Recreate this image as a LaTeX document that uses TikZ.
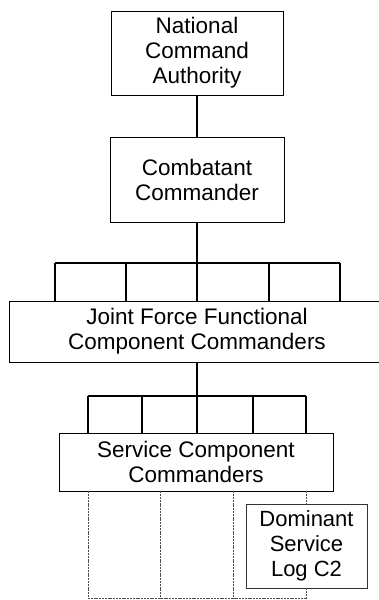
\documentclass[tikz,border=0pt]{standalone}
\usepackage{fontspec}
\setmainfont{Liberation Sans}
\begin{document}
\begin{tikzpicture}[x=1pt,y=-1pt,
  box/.style={draw, line width=0.9pt, font=\fontsize{22.5}{25}\selectfont, align=center, inner sep=0pt},
  thinbox/.style={box, line width=0.6pt, draw=black!80, font=\fontsize{22}{25}\selectfont},
  conn/.style={line width=1.8pt},
  dotl/.style={line width=0.6pt, draw=black!70, dash pattern=on 2pt off 0.8pt}]
\useasboundingbox (0,0) rectangle (378,600);
% boxes
\node[box, minimum width=172pt, minimum height=84pt] (nca) at (197,53) {National\\Command\\Authority};
\node[box, minimum width=174pt, minimum height=85pt] (cc) at (197,179.5) {Combatant\\Commander};
\node[box, minimum width=376pt, minimum height=61pt] (jf) at (197,331.5) {Joint Force Functional\\Component Commanders};
\node[box, minimum width=274pt, minimum height=58pt] (sc) at (196,462) {Service Component\\Commanders};
\node[thinbox, minimum width=121pt, minimum height=84pt] (dom) at (306.5,546) {Dominant\\Service\\Log C2};
% coordinates
\coordinate (b1a) at (55,263);
\coordinate (b1b) at (126,263);
\coordinate (b1c) at (197,263);
\coordinate (b1d) at (269,263);
\coordinate (b1e) at (340,263);
\coordinate (b2a) at (88,396);
\coordinate (b2b) at (142,396);
\coordinate (b2c) at (197,396);
\coordinate (b2d) at (253,396);
\coordinate (b2e) at (306,396);
\coordinate (d1) at (88,598);
\coordinate (d2) at (160,598);
\coordinate (d3) at (233,598);
\coordinate (d4) at (306.5,598);
% connectors
\draw[conn] (nca) -- (cc);
\draw[conn] (cc.south) -- (b1c);
\draw[conn] (b1a) -- (b1e);
\foreach \p in {b1a,b1b,b1c,b1d,b1e} \draw[conn] (\p) -- (\p |- jf.north);
\draw[conn] (jf.south -| b2c) -- (b2c);
\draw[conn] (b2a) -- (b2e);
\foreach \p in {b2a,b2b,b2c,b2d,b2e} \draw[conn] (\p) -- (\p |- sc.north);
% dotted lines
\foreach \p in {d1,d2,d3} \draw[dotl] (\p |- sc.south) -- (\p);
\draw[dotl] (dom.north |- sc.south) -- (dom.north);
\draw[dotl] (dom.south) -- (d4);
\draw[dotl] (d1) -- (d4);
\end{tikzpicture}
\end{document}
